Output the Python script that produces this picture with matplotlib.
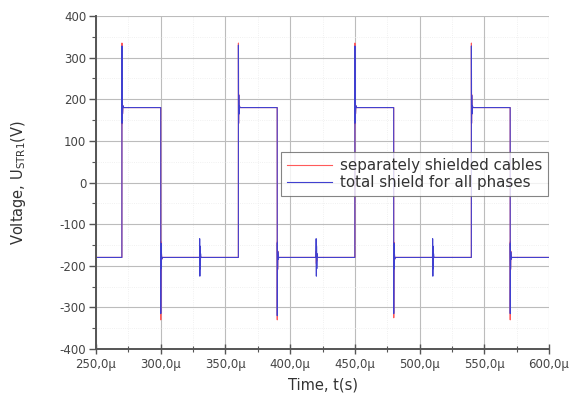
import numpy as np
import matplotlib
matplotlib.use("Agg")
import matplotlib.pyplot as plt
from matplotlib.ticker import MultipleLocator, FuncFormatter

# ---- data (time in microseconds, voltage in V) ----
t_start, t_end = 250.0, 600.0
t_rise = [270.0, 360.0, 450.0, 540.0]
t_fall = [300.0, 390.0, 480.0, 570.0]
t_burst = [330.0, 420.0, 510.0]
v_high = 180.0
v_low = -180.0

red_rise_peak = [335.0, 335.0, 335.0, 335.0]
red_fall_peak = [-330.0, -330.0, -325.0, -330.0]
red_burst_amp = [15.0, 15.0, 15.0]

blue_rise_peak = [328.0, 330.0, 328.0, 328.0]
blue_fall_peak = [-315.0, -320.0, -315.0, -315.0]
blue_burst_amp = [45.0, 45.0, 45.0]

# ringing shape after an edge (time offset in us, fraction of overshoot)
ring_dt = [0.0, 0.05, 0.15, 0.3, 0.5, 0.8, 1.2]
ring_frac = [None, 1.0, -0.25, 0.2, -0.1, 0.03, 0.0]
burst_dt = [0.0, 0.1, 0.25, 0.4, 0.6, 0.8, 1.0]
burst_frac = [0.0, 1.0, -1.0, 0.6, -0.6, 0.2, 0.0]


def build(rise_peak, fall_peak, burst_amp):
    events = []
    for tr, pk in zip(t_rise, rise_peak):
        events.append(("rise", tr, pk))
    for tf, pk in zip(t_fall, fall_peak):
        events.append(("fall", tf, pk))
    for tb, a in zip(t_burst, burst_amp):
        events.append(("burst", tb, a))
    events.sort(key=lambda e: e[1])
    t = [t_start]
    v = [v_low]
    for kind, t0, p in events:
        if kind == "burst":
            for dt, fr in zip(burst_dt, burst_frac):
                t.append(t0 + dt)
                v.append(v_low + fr * p)
        else:
            before = v_low if kind == "rise" else v_high
            after = v_high if kind == "rise" else v_low
            over = p - after
            for dt, fr in zip(ring_dt, ring_frac):
                t.append(t0 + dt)
                v.append(before if fr is None else after + fr * over)
    t.append(t_end)
    v.append(v_low)
    return np.array(t), np.array(v)


t_red, v_red = build(red_rise_peak, red_fall_peak, red_burst_amp)
t_blue, v_blue = build(blue_rise_peak, blue_fall_peak, blue_burst_amp)

plt.rcParams['font.family'] = ['DejaVu Sans']
plt.rcParams['mathtext.default'] = 'regular'

fig = plt.figure(figsize=(5.71, 4.05), dpi=100)
ax = fig.add_axes([96 / 571, 1 - 349 / 405, (549 - 96) / 571, (349 - 16) / 405])

ax.plot(t_red, v_red, color='#ff5a5a', lw=0.8, label='separately shielded cables')
ax.plot(t_blue, v_blue, color='#4040d0', lw=0.8, label='total shield for all phases')

ax.set_xlim(t_start, t_end)
ax.set_ylim(-400, 400)
ax.xaxis.set_major_locator(MultipleLocator(50))
ax.xaxis.set_minor_locator(MultipleLocator(25))
ax.yaxis.set_major_locator(MultipleLocator(100))
ax.yaxis.set_minor_locator(MultipleLocator(50))
ax.xaxis.set_major_formatter(FuncFormatter(lambda x, p: f"{x:.1f}".replace('.', ',') + "\u00b5"))
ax.yaxis.set_major_formatter(FuncFormatter(lambda y, p: f"{int(round(y))}"))

ax.grid(which='major', color='#bcbcbc', lw=0.8)
ax.grid(which='minor', color='#ececec', lw=0.6, ls=':')
ax.set_axisbelow(True)

for s in ['top', 'right']:
    ax.spines[s].set_visible(False)
for s in ['left', 'bottom']:
    ax.spines[s].set_color('#555555')
    ax.spines[s].set_linewidth(1.4)

ax.tick_params(axis='x', which='major', direction='inout', length=7, width=1, colors='#555555',
               labelcolor='#444444', labelsize=8.5, pad=3)
ax.tick_params(axis='x', which='minor', direction='inout', length=4, width=0.8, colors='#555555')
ax.tick_params(axis='y', which='major', direction='out', length=5, width=1, colors='#555555',
               labelcolor='#444444', labelsize=8.5, pad=2)
ax.tick_params(axis='y', which='minor', direction='out', length=3, width=0.8, colors='#555555')

ax.set_xlabel('Time, t(s)', fontsize=10.5, color='#333333')
ax.set_ylabel('Voltage, U$_{STR1}$(V)', fontsize=10.5, color='#333333')
ax.xaxis.set_label_coords(0.5, -(385 - 349) / 333, transform=ax.transAxes)
ax.yaxis.set_label_coords((19 - 96) / 453, 0.5, transform=ax.transAxes)
ax.xaxis.label.set_va('center')
ax.yaxis.label.set_va('center')

leg = ax.legend(loc='upper left', bbox_to_anchor=((281 - 96) / 453, 1 - (152 - 16) / 333),
                fontsize=10.9, frameon=True, fancybox=False, edgecolor='#666666',
                handlelength=3.0, handletextpad=0.5, borderpad=0.4, labelspacing=0.15,
                borderaxespad=0)
leg.get_frame().set_linewidth(0.8)
for txt in leg.get_texts():
    txt.set_color('#333333')

fig.savefig('out.png', dpi=100)
